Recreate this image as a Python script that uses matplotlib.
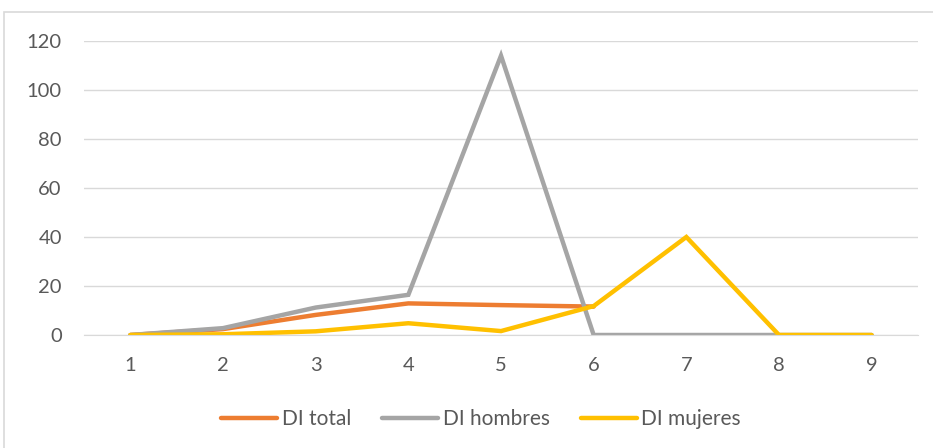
import matplotlib
matplotlib.use("Agg")
import matplotlib.pyplot as plt
from matplotlib.patches import Rectangle

categories = [1, 2, 3, 4, 5, 6, 7, 8, 9]
di_total = [0, 2.4, 8.2, 12.9, 12.2, 11.6]
di_hombres = [0, 2.8, 11.2, 16.4, 114, 0, 0, 0, 0]
di_mujeres = [0, 0.3, 1.5, 4.8, 1.6, 11.8, 40, 0, 0]
y_ticks = [0, 20, 40, 60, 80, 100, 120]

plt.rcParams['font.family'] = ['Lato', 'DejaVu Sans']

fig = plt.figure(figsize=(9.33, 4.48), dpi=100)
ax = fig.add_axes([84 / 933, 1 - 335 / 448, (918 - 84) / 933, (335 - 41) / 448])

# outer chart border
fig.patches.append(Rectangle((4 / 933, -0.05), 1.1, 1 - 12 / 448 + 0.05,
                             transform=fig.transFigure, fill=False,
                             edgecolor='#D9D9D9', linewidth=1.2))

ax.plot(categories[:len(di_total)], di_total, color='#ED7D31', lw=3.2,
        solid_capstyle='round', solid_joinstyle='miter', label='DI total')
ax.plot(categories, di_hombres, color='#A5A5A5', lw=3.2,
        solid_capstyle='round', solid_joinstyle='miter', label='DI hombres')
ax.plot(categories, di_mujeres, color='#FFC000', lw=3.2,
        solid_capstyle='round', solid_joinstyle='miter', label='DI mujeres')

ax.set_xlim(0.5, 9.5)
ax.set_ylim(0, 120)
ax.set_xticks(categories)
ax.set_yticks(y_ticks)
ax.yaxis.grid(True, color='#D9D9D9', lw=1)
ax.set_axisbelow(True)
for s in ['top', 'right', 'left']:
    ax.spines[s].set_visible(False)
ax.spines['bottom'].set_color('#D9D9D9')
ax.tick_params(axis='both', length=0, labelsize=14.5, colors='#595959')
ax.tick_params(axis='x', pad=16)
ax.tick_params(axis='y', pad=16)

leg = fig.legend(loc='center', bbox_to_anchor=(481 / 933, 1 - 419 / 448), ncol=3,
                 frameon=False, fontsize=15, handlelength=2.7, handletextpad=0.2,
                 columnspacing=1.5)
for t in leg.get_texts():
    t.set_color('#595959')

fig.savefig('out.png', dpi=100)
